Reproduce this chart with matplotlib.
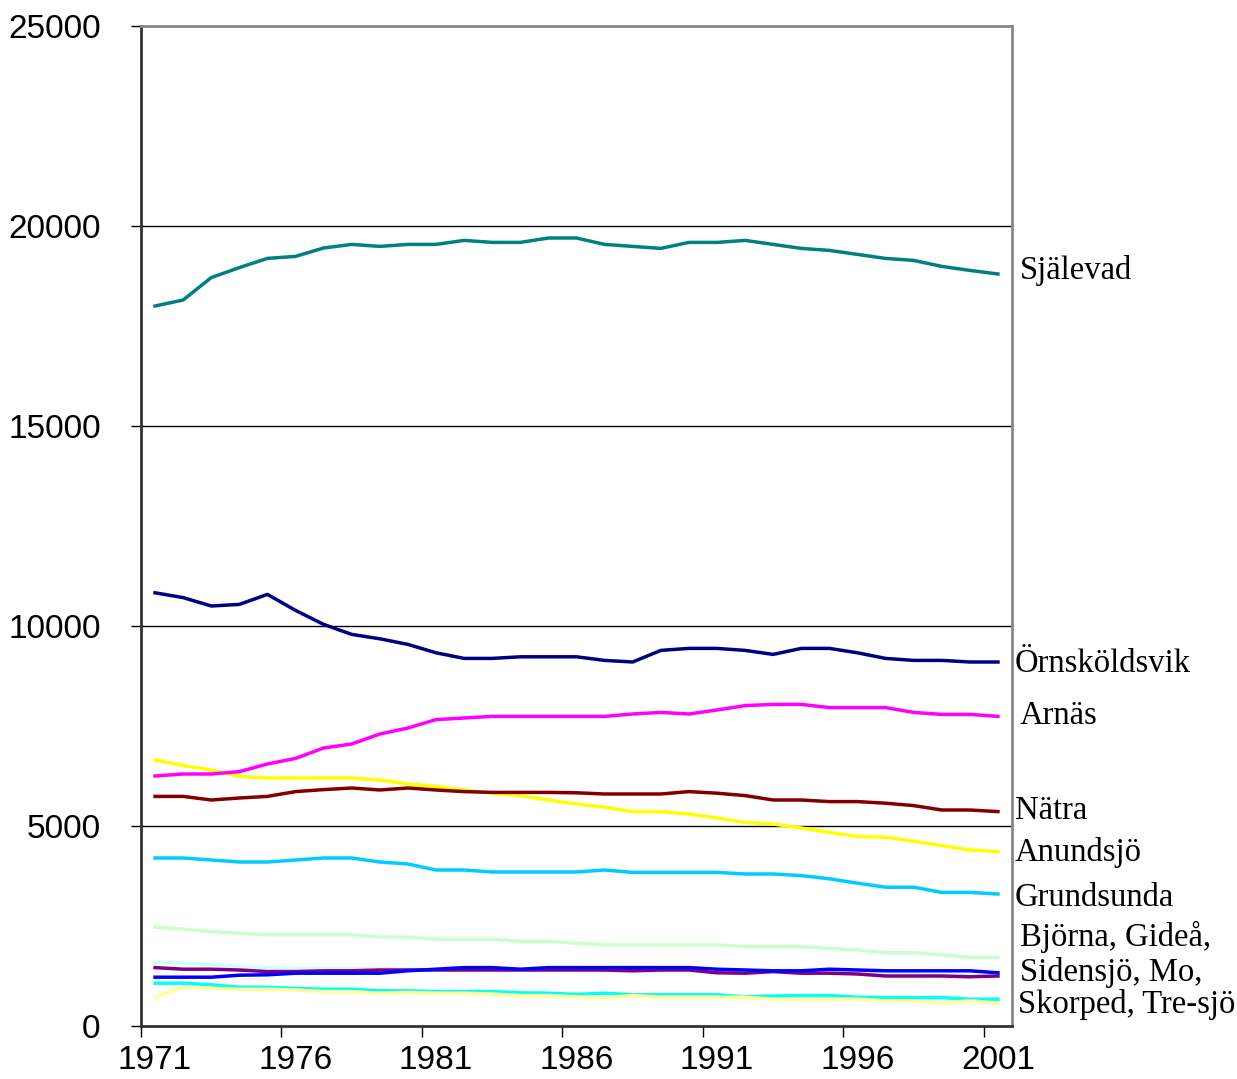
import matplotlib.pyplot as plt

# Population per parish, 1971-2001
years = list(range(1971, 2002))

sjalevad = [18000, 18150, 18710, 18960, 19190, 19240, 19450, 19540, 19490, 19540,
            19540, 19640, 19590, 19590, 19700, 19700, 19540, 19490, 19440, 19590,
            19590, 19640, 19540, 19440, 19390, 19290, 19190, 19140, 18990, 18890, 18800]
ornskoldsvik = [10830, 10710, 10500, 10540, 10790, 10390, 10040, 9790, 9680, 9540,
                9330, 9190, 9190, 9230, 9230, 9230, 9140, 9100, 9390, 9440,
                9440, 9390, 9290, 9440, 9440, 9330, 9190, 9140, 9140, 9100, 9100]
arnas = [6250, 6300, 6300, 6360, 6550, 6690, 6950, 7050, 7300, 7450,
         7660, 7700, 7740, 7740, 7740, 7740, 7740, 7800, 7840, 7800,
         7900, 8010, 8040, 8040, 7960, 7960, 7960, 7840, 7790, 7790, 7740]
natra = [5740, 5740, 5650, 5700, 5740, 5860, 5910, 5950, 5900, 5950,
         5900, 5860, 5840, 5840, 5840, 5830, 5800, 5800, 5800, 5860,
         5820, 5760, 5650, 5650, 5610, 5610, 5570, 5510, 5400, 5400, 5360]
anundsjo = [6650, 6510, 6400, 6240, 6200, 6200, 6200, 6200, 6150, 6050,
            5990, 5900, 5820, 5760, 5650, 5550, 5470, 5360, 5360, 5300,
            5200, 5090, 5050, 4950, 4840, 4740, 4720, 4620, 4510, 4400, 4360]
grundsunda = [4200, 4200, 4150, 4100, 4100, 4150, 4200, 4200, 4100, 4050,
              3900, 3900, 3850, 3850, 3850, 3850, 3900, 3840, 3840, 3840,
              3840, 3800, 3800, 3760, 3680, 3570, 3470, 3470, 3340, 3340, 3300]
bjorna = [2470, 2420, 2360, 2320, 2280, 2280, 2280, 2280, 2230, 2220,
          2170, 2170, 2170, 2120, 2120, 2070, 2030, 2030, 2030, 2030,
          2030, 1980, 1980, 1980, 1940, 1900, 1830, 1830, 1780, 1720, 1720]
gidea = [1580, 1580, 1530, 1480, 1450, 1440, 1440, 1440, 1430, 1420,
         1410, 1400, 1400, 1400, 1400, 1390, 1390, 1380, 1390, 1390,
         1370, 1340, 1360, 1340, 1340, 1310, 1300, 1290, 1280, 1270, 1260]
sidensjo = [1460, 1420, 1420, 1400, 1360, 1360, 1380, 1380, 1400, 1400,
            1400, 1400, 1400, 1400, 1400, 1400, 1400, 1380, 1400, 1400,
            1330, 1320, 1360, 1320, 1320, 1300, 1250, 1250, 1250, 1230, 1250]
mo = [1220, 1220, 1220, 1270, 1280, 1320, 1320, 1320, 1320, 1380,
      1420, 1460, 1460, 1420, 1460, 1460, 1460, 1460, 1460, 1460,
      1420, 1400, 1380, 1380, 1420, 1400, 1380, 1380, 1380, 1380, 1330]
skorped = [1070, 1070, 1030, 970, 970, 940, 920, 920, 880, 880,
           860, 860, 860, 830, 820, 790, 820, 780, 780, 780,
           780, 730, 750, 760, 760, 720, 710, 710, 710, 670, 670]
tresjo = [720, 970, 940, 920, 920, 900, 860, 860, 820, 840,
          820, 820, 800, 760, 760, 730, 710, 760, 720, 720,
          720, 720, 670, 670, 670, 670, 630, 630, 570, 630, 570]

series = [
    (bjorna, "#ccffcc"),
    (gidea, "#ccffff"),
    (sidensjo, "#800080"),
    (mo, "#0000ff"),
    (skorped, "#00ffff"),
    (tresjo, "#ffff99"),
    (grundsunda, "#00ccff"),
    (anundsjo, "#ffff00"),
    (natra, "#800000"),
    (arnas, "#ff00ff"),
    (ornskoldsvik, "#000080"),
    (sjalevad, "#008080"),
]

# label text and its pixel position (x, y) on the 1237x1079 canvas
labels = [
    ("Själevad", 1020, 271),
    ("Örnsköldsvik", 1015, 664),
    ("Arnäs", 1020, 716),
    ("Nätra", 1015, 811),
    ("Anundsjö", 1015, 852),
    ("Grundsunda", 1015, 898),
    ("Björna, Gideå,", 1020, 937),
    ("Sidensjö, Mo,", 1020, 972),
    ("Skorped, Tre-sjö", 1018, 1004),
]

W, H = 1237, 1079
fig = plt.figure(figsize=(W / 100, H / 100), dpi=100)
ax = fig.add_axes([141 / W, 1 - 1026 / H, (1012 - 141) / W, 1000 / H])

for values, color in series:
    ax.plot(years, values, color=color, linewidth=2.5, solid_joinstyle="round")

ax.set_xlim(1970.5, 2001.5)
ax.set_ylim(0, 25000)

# y axis
ax.set_yticks(range(0, 25001, 5000))
ax.tick_params(axis="y", length=7, width=1, pad=22, labelsize=24)
for y in range(5000, 25000, 5000):
    ax.axhline(y, color="black", linewidth=1, zorder=0)

# x axis: labels on the years, tick marks between categories
ax.set_xticks(range(1971, 2002, 5))
ax.set_xticks([x + 0.5 for x in range(1970, 2001, 5)], minor=True)
ax.tick_params(axis="x", which="major", length=0, pad=14, labelsize=24)
ax.tick_params(axis="x", which="minor", length=8, width=1)

for lab in ax.get_xticklabels() + ax.get_yticklabels():
    lab.set_family("Liberation Sans")

ax.spines["left"].set_color("#333333")
ax.spines["left"].set_linewidth(2)
ax.spines["bottom"].set_color("#333333")
ax.spines["bottom"].set_linewidth(2)
ax.spines["top"].set_color("#888888")
ax.spines["top"].set_linewidth(2)
ax.spines["right"].set_color("#888888")
ax.spines["right"].set_linewidth(2)

for text, px, py in labels:
    fig.text(px / W, 1 - py / H, text, ha="left", va="center",
             family="Liberation Serif", fontsize=23.5)

fig.savefig("out.png", dpi=100)
